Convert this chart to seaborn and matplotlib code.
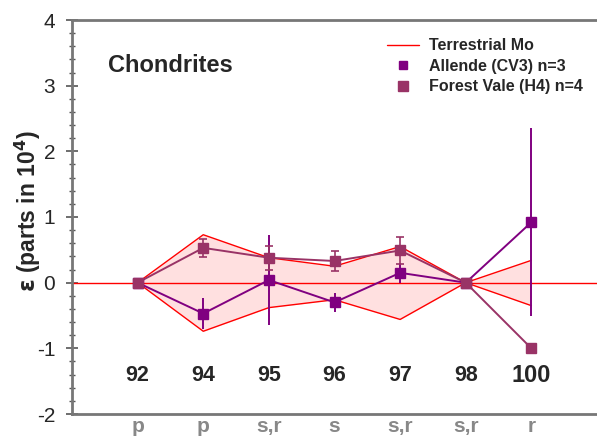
import numpy as np
import pandas as pd
import matplotlib
matplotlib.use('Agg')
import matplotlib.pyplot as plt
from matplotlib.ticker import MultipleLocator
from matplotlib.lines import Line2D
import seaborn as sns

# Mo isotopes and their nucleosynthetic process
masses = ['92', '94', '95', '96', '97', '98', '100']
process = ['p', 'p', 's,r', 's', 's,r', 's,r', 'r']

# Terrestrial Mo envelope
terr_upper = [0, 0.73, 0.38, 0.25, 0.55, 0, 0.34]
terr_lower = [0, -0.74, -0.38, -0.26, -0.56, 0, -0.35]

# Allende (CV3) n=3
allende = [0, -0.47, 0.04, -0.30, 0.15, 0, 0.92]
allende_err = [0, 0.23, 0.69, 0.15, 0.15, 0, 1.43]

# Forest Vale (H4) n=4
forest = [0, 0.53, 0.38, 0.33, 0.49, 0, -1.0]
forest_err = [0, 0.14, 0.18, 0.15, 0.21, 0, 0]

sns.set_style('ticks')
plt.rcParams['font.family'] = ['Liberation Sans', 'DejaVu Sans']
plt.rcParams['axes.unicode_minus'] = False

c_allende = '#800080'
c_forest = '#993366'
c_red = '#ff0000'

pos = np.arange(len(masses))
df = pd.DataFrame({'pos': np.concatenate([pos, pos]),
                   'eps': allende + forest,
                   'sample': ['Allende'] * len(pos) + ['Forest'] * len(pos)})

fig = plt.figure(figsize=(5.97, 4.37), dpi=100)
ax = fig.add_axes([72 / 597, 1 - 414 / 437, 1 - 72 / 597, (414 - 20) / 437])

# terrestrial band
ax.fill_between(pos, terr_lower, terr_upper, color='#ffe0e0', lw=0, zorder=1)
ax.plot(pos, terr_upper, color=c_red, lw=1.0, zorder=2)
ax.plot(pos, terr_lower, color=c_red, lw=1.0, zorder=2)
ax.axhline(0, color=c_red, lw=1.0, zorder=2)

# sample lines
sns.lineplot(data=df, x='pos', y='eps', hue='sample',
             palette={'Allende': c_allende, 'Forest': c_forest},
             hue_order=['Allende', 'Forest'], lw=1.4, legend=False,
             ax=ax, zorder=3)

a_err = np.array(allende_err)
m = a_err > 0
ax.errorbar(pos[m], np.array(allende)[m], yerr=a_err[m], fmt='none',
            ecolor=c_allende, elinewidth=1.4, capsize=0, zorder=4)
ax.plot(pos, allende, ls='none', marker='s', ms=6.5, color=c_allende, zorder=5)

f_err = np.array(forest_err)
m = f_err > 0
ax.errorbar(pos[m], np.array(forest)[m], yerr=f_err[m], fmt='none',
            ecolor=c_forest, elinewidth=1.2, capsize=3, capthick=1.2, zorder=6)
ax.plot(pos, forest, ls='none', marker='s', ms=7.5, color=c_forest, zorder=7)

# mass numbers inside the plot
for i, lab in enumerate(masses):
    ax.text(i, -1.42, lab, ha='center', va='center', fontweight='bold',
            fontsize=17 if lab == '100' else 15.5)

ax.set_xlim(-1, 7)
ax.set_ylim(-2, 4)
ax.set_xticks(pos)
ax.set_xticklabels(process, color='#888888', fontweight='bold', fontsize=15)
ax.tick_params(axis='x', length=0, pad=2)
ax.yaxis.set_major_locator(MultipleLocator(1))
ax.yaxis.set_minor_locator(MultipleLocator(0.2))
ax.tick_params(axis='y', which='major', direction='inout', length=8,
               width=1.2, color='#555555', labelsize=15, pad=8)
ax.tick_params(axis='y', which='minor', direction='inout', length=4,
               width=1.0, color='#555555')
ax.set_xlabel('')
ax.set_ylabel(r'$\mathbf{\varepsilon}$ (parts in 10$^{\mathbf{4}}$)',
              fontsize=16.5, fontweight='bold')
ax.yaxis.set_label_coords(-0.056, 0.515)

for s in ['left', 'top', 'bottom']:
    ax.spines[s].set_color('#777777')
    ax.spines[s].set_linewidth(2)
ax.spines['right'].set_visible(False)

ax.text((108 - 72) / 525, (414 - 65) / 394, 'Chondrites', transform=ax.transAxes,
        fontsize=17, fontweight='bold', ha='left', va='center')

handles = [Line2D([], [], color=c_red, lw=1.0),
           Line2D([], [], ls='none', marker='s', ms=6, color=c_allende),
           Line2D([], [], ls='none', marker='s', ms=7, color=c_forest)]
labels = ['Terrestrial Mo', 'Allende (CV3) n=3', 'Forest Vale (H4) n=4']
ax.legend(handles, labels, loc='upper right', bbox_to_anchor=(1.0, 0.99),
          frameon=False, prop={'weight': 'bold', 'size': 11.5},
          handlelength=2.0, handletextpad=0.6, labelspacing=0.35)

fig.savefig('out.png', dpi=100)
plt.close(fig)
